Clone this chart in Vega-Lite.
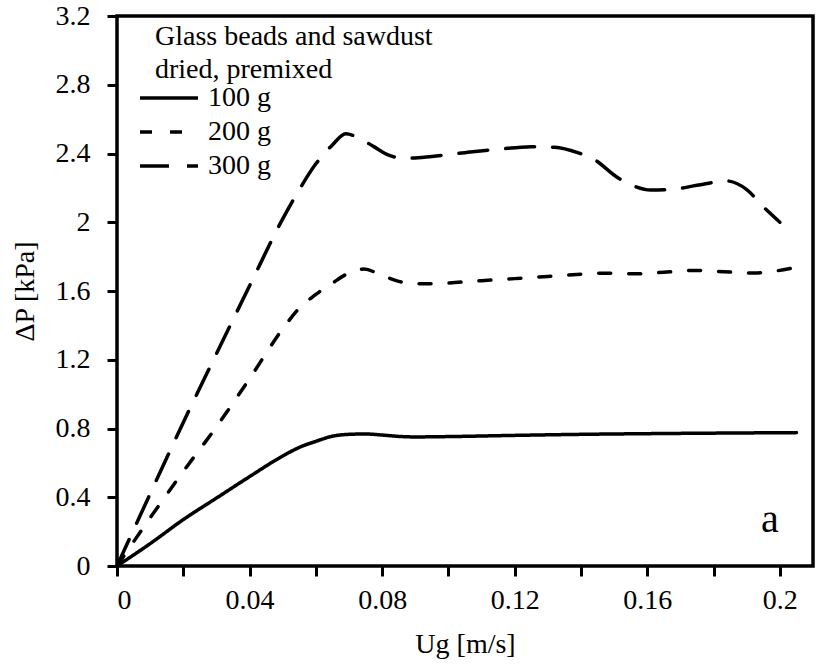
{
  "$schema": "https://vega.github.io/schema/vega-lite/v6.json",
  "width": 696,
  "height": 550,
  "autosize": "none",
  "padding": {"left": 117, "top": 16, "right": 4, "bottom": 100},
  "background": "white",
  "config": {
    "font": "Liberation Serif",
    "view": {"stroke": "black", "strokeWidth": 3.5},
    "axis": {
      "domain": false,
      "grid": false,
      "ticks": true,
      "tickColor": "black",
      "tickWidth": 3,
      "tickSize": 10,
      "labelColor": "black",
      "labelFont": "Liberation Serif",
      "labelFontSize": 28,
      "titleFont": "Liberation Serif",
      "titleFontSize": 28,
      "titleFontWeight": "normal",
      "titleColor": "black"
    }
  },
  "layer": [
    {
      "data": {
        "values": [
          {"s": "100 g", "x": 0, "y": 0},
          {"s": "100 g", "x": 0.01, "y": 0.13},
          {"s": "100 g", "x": 0.02, "y": 0.27},
          {"s": "100 g", "x": 0.03, "y": 0.395},
          {"s": "100 g", "x": 0.04, "y": 0.52},
          {"s": "100 g", "x": 0.05, "y": 0.64},
          {"s": "100 g", "x": 0.055, "y": 0.69},
          {"s": "100 g", "x": 0.06, "y": 0.725},
          {"s": "100 g", "x": 0.065, "y": 0.755},
          {"s": "100 g", "x": 0.07, "y": 0.766},
          {"s": "100 g", "x": 0.075, "y": 0.768},
          {"s": "100 g", "x": 0.08, "y": 0.762},
          {"s": "100 g", "x": 0.085, "y": 0.754},
          {"s": "100 g", "x": 0.09, "y": 0.751},
          {"s": "100 g", "x": 0.1, "y": 0.753},
          {"s": "100 g", "x": 0.12, "y": 0.76},
          {"s": "100 g", "x": 0.14, "y": 0.766},
          {"s": "100 g", "x": 0.16, "y": 0.77},
          {"s": "100 g", "x": 0.18, "y": 0.773},
          {"s": "100 g", "x": 0.205, "y": 0.776},
          {"s": "200 g", "x": 0, "y": 0},
          {"s": "200 g", "x": 0.01, "y": 0.28},
          {"s": "200 g", "x": 0.02, "y": 0.55},
          {"s": "200 g", "x": 0.03, "y": 0.81},
          {"s": "200 g", "x": 0.04, "y": 1.09},
          {"s": "200 g", "x": 0.05, "y": 1.38},
          {"s": "200 g", "x": 0.055, "y": 1.5},
          {"s": "200 g", "x": 0.06, "y": 1.58},
          {"s": "200 g", "x": 0.065, "y": 1.646},
          {"s": "200 g", "x": 0.07, "y": 1.705},
          {"s": "200 g", "x": 0.0745, "y": 1.728},
          {"s": "200 g", "x": 0.08, "y": 1.69},
          {"s": "200 g", "x": 0.085, "y": 1.656},
          {"s": "200 g", "x": 0.09, "y": 1.643},
          {"s": "200 g", "x": 0.095, "y": 1.642},
          {"s": "200 g", "x": 0.1, "y": 1.647},
          {"s": "200 g", "x": 0.11, "y": 1.66},
          {"s": "200 g", "x": 0.12, "y": 1.672},
          {"s": "200 g", "x": 0.13, "y": 1.685},
          {"s": "200 g", "x": 0.14, "y": 1.698},
          {"s": "200 g", "x": 0.148, "y": 1.704},
          {"s": "200 g", "x": 0.156, "y": 1.7},
          {"s": "200 g", "x": 0.165, "y": 1.709},
          {"s": "200 g", "x": 0.174, "y": 1.72},
          {"s": "200 g", "x": 0.183, "y": 1.712},
          {"s": "200 g", "x": 0.192, "y": 1.705},
          {"s": "200 g", "x": 0.2035, "y": 1.732},
          {"s": "300 g", "x": 0, "y": 0},
          {"s": "300 g", "x": 0.01, "y": 0.42},
          {"s": "300 g", "x": 0.02, "y": 0.835},
          {"s": "300 g", "x": 0.03, "y": 1.235},
          {"s": "300 g", "x": 0.04, "y": 1.63},
          {"s": "300 g", "x": 0.05, "y": 2.02},
          {"s": "300 g", "x": 0.055, "y": 2.19},
          {"s": "300 g", "x": 0.06, "y": 2.34},
          {"s": "300 g", "x": 0.065, "y": 2.45},
          {"s": "300 g", "x": 0.069, "y": 2.515},
          {"s": "300 g", "x": 0.073, "y": 2.49},
          {"s": "300 g", "x": 0.0775, "y": 2.44},
          {"s": "300 g", "x": 0.082, "y": 2.39},
          {"s": "300 g", "x": 0.087, "y": 2.372},
          {"s": "300 g", "x": 0.095, "y": 2.383},
          {"s": "300 g", "x": 0.105, "y": 2.405},
          {"s": "300 g", "x": 0.115, "y": 2.425},
          {"s": "300 g", "x": 0.125, "y": 2.44},
          {"s": "300 g", "x": 0.132, "y": 2.436},
          {"s": "300 g", "x": 0.139, "y": 2.405},
          {"s": "300 g", "x": 0.144, "y": 2.365},
          {"s": "300 g", "x": 0.151, "y": 2.26},
          {"s": "300 g", "x": 0.156, "y": 2.21},
          {"s": "300 g", "x": 0.161, "y": 2.187},
          {"s": "300 g", "x": 0.168, "y": 2.192},
          {"s": "300 g", "x": 0.175, "y": 2.215},
          {"s": "300 g", "x": 0.184, "y": 2.24},
          {"s": "300 g", "x": 0.19, "y": 2.19},
          {"s": "300 g", "x": 0.195, "y": 2.09},
          {"s": "300 g", "x": 0.2, "y": 2.0}
        ]
      },
      "mark": {"type": "line", "color": "black", "strokeWidth": 3.5, "interpolate": "monotone", "strokeCap": "round"},
      "encoding": {
        "x": {
          "field": "x", "type": "quantitative",
          "scale": {"domain": [0, 0.21], "nice": false, "zero": false},
          "axis": {
            "values": [0, 0.02, 0.04, 0.06, 0.08, 0.1, 0.12, 0.14, 0.16, 0.18, 0.2],
            "format": ".2~f",
            "labelExpr": "indexof(['0','0.04','0.08','0.12','0.16','0.2'], datum.label) >= 0 ? datum.label : ''",
            "labelPadding": 10,
            "title": "Ug [m/s]",
            "titlePadding": 16
          }
        },
        "y": {
          "field": "y", "type": "quantitative",
          "scale": {"domain": [0, 3.2], "nice": false},
          "axis": {
            "values": [0, 0.2, 0.4, 0.6, 0.8, 1.0, 1.2, 1.4, 1.6, 1.8, 2.0, 2.2, 2.4, 2.6, 2.8, 3.0, 3.2],
            "format": ".1~f",
            "labelExpr": "indexof(['0','0.4','0.8','1.2','1.6','2','2.4','2.8','3.2'], datum.label) >= 0 ? datum.label : ''",
            "labelPadding": 17,
            "title": "ΔP [kPa]",
            "titleX": -92,
            "titleY": 275,
            "titleAlign": "center",
            "titleBaseline": "middle",
            "titleAngle": -90
          }
        },
        "strokeDash": {
          "field": "s", "type": "nominal",
          "scale": {"domain": ["100 g", "200 g", "300 g"], "range": [[1, 0], [12, 18], [29, 18]]},
          "legend": {
            "title": ["Glass beads and sawdust", "dried, premixed"],
            "orient": "none",
            "legendX": 38,
            "legendY": 7,
            "titleFont": "Liberation Serif",
            "titleFontSize": 28,
            "titleFontWeight": "normal",
            "titleColor": "black",
            "titleLineHeight": 33,
            "titleLimit": 1000,
            "titlePadding": 0,
            "labelFont": "Liberation Serif",
            "labelFontSize": 28,
            "labelColor": "black",
            "labelOffset": 25,
            "labelLimit": 500,
            "symbolType": "M-3,0H3",
            "symbolSize": 374,
            "symbolStrokeWidth": 3.5,
            "symbolStrokeColor": "black",
            "rowPadding": 6,
            "padding": 0
          }
        }
      }
    },
    {
      "data": {"values": [{"label": "a"}]},
      "mark": {"type": "text", "fontSize": 40, "font": "Liberation Serif", "fill": "black", "align": "center", "baseline": "alphabetic"},
      "encoding": {
        "text": {"field": "label"},
        "x": {"datum": 0.197, "type": "quantitative"},
        "y": {"datum": 0.2, "type": "quantitative"}
      }
    }
  ]
}
